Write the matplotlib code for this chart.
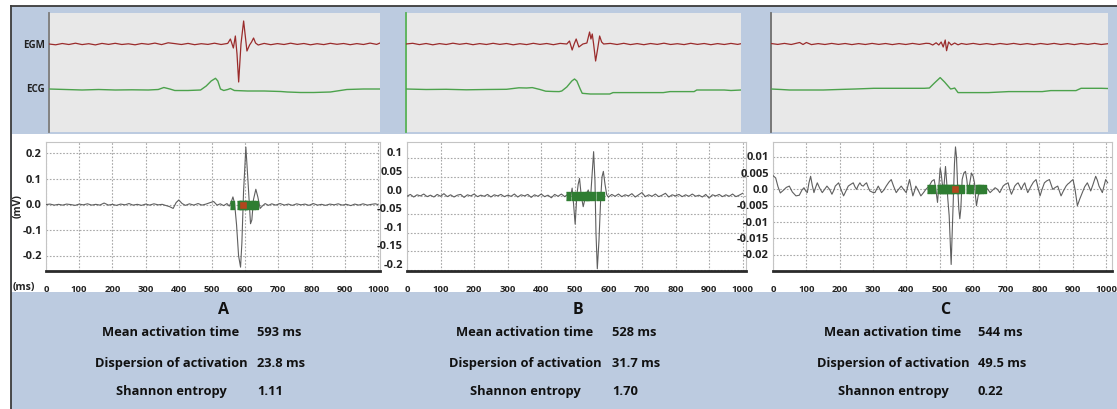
import matplotlib
matplotlib.use('Agg')
import matplotlib.pyplot as plt
import numpy as np
from matplotlib.patches import Rectangle

# ---------------- data ----------------
PANELS = ['A', 'B', 'C']
ROW_LABELS = ['Mean activation time', 'Dispersion of activation', 'Shannon entropy']
VALUES_A = ['593 ms', '23.8 ms', '1.11']
VALUES_B = ['528 ms', '31.7 ms', '1.70']
VALUES_C = ['544 ms', '49.5 ms', '0.22']

XTICKS = [0, 100, 200, 300, 400, 500, 600, 700, 800, 900, 1000]
YTICKS_A = [0.2, 0.1, 0.0, -0.1, -0.2]
YLABELS_A = ['0.2', '0.1', '0.0', '-0.1', '-0.2']
YTICKS_B = [0.1, 0.05, 0.0, -0.05, -0.1, -0.15, -0.2]
YLABELS_B = ['0.1', '0.05', '0.0', '-0.05', '-0.1', '-0.15', '-0.2']
YTICKS_C = [0.01, 0.005, 0.0, -0.005, -0.01, -0.015, -0.02]
YLABELS_C = ['0.01', '0.005', '0.0', '-0.005', '-0.01', '-0.015', '-0.02']

# unipolar signal (ms, mV)
SIG_A = [(0, 0.0), (12, 0.002), (25, -0.002), (38, 0.001), (50, -0.002), (62, 0.002), (75, 0.0),
         (88, -0.003), (100, 0.002), (112, -0.001), (125, 0.003), (138, -0.002), (150, 0.001),
         (162, -0.002), (175, 0.006), (188, -0.002), (200, 0.001), (212, -0.003), (225, 0.002),
         (238, -0.001), (250, 0.004), (262, -0.002), (275, 0.001), (288, -0.003), (300, 0.002),
         (312, -0.002), (325, 0.003), (338, -0.001), (350, 0.001), (362, -0.004), (372, -0.008),
         (383, -0.015), (392, 0.008), (400, 0.018), (410, 0.004), (420, -0.003), (432, 0.003),
         (445, -0.002), (458, 0.004), (470, -0.002), (482, 0.002), (495, 0.008), (505, 0.012),
         (515, -0.002), (525, 0.003), (535, -0.004), (545, 0.004), (552, -0.006), (558, 0.01),
         (563, 0.03), (568, 0.005), (574, -0.08), (580, -0.2), (586, -0.245), (590, -0.15),
         (595, 0.05), (602, 0.225), (608, 0.1), (616, -0.075), (620, -0.06), (625, 0.02),
         (632, 0.06), (638, 0.03), (645, -0.015), (652, -0.005), (660, 0.004), (670, -0.003),
         (680, 0.003), (692, -0.002), (705, 0.004), (718, -0.002), (730, 0.002), (742, -0.003),
         (755, 0.003), (768, -0.001), (780, 0.002), (792, -0.003), (805, 0.004), (818, -0.002),
         (830, 0.001), (842, -0.003), (855, 0.002), (868, -0.001), (880, 0.003), (892, -0.002),
         (905, 0.001), (918, -0.004), (930, 0.002), (942, -0.002), (955, 0.003), (968, -0.002),
         (980, 0.001), (992, 0.003), (1000, 0.0)]

SIG_B = [(0, -0.002), (10, 0.003), (20, -0.004), (30, 0.002), (40, -0.001), (50, 0.004), (60, -0.003),
         (70, 0.001), (80, -0.004), (90, 0.003), (100, -0.002), (110, 0.005), (120, -0.003),
         (130, 0.002), (140, -0.004), (150, 0.001), (160, 0.003), (170, -0.005), (180, 0.002),
         (190, -0.001), (200, 0.004), (210, -0.003), (220, 0.001), (230, -0.002), (240, 0.003),
         (250, -0.004), (260, 0.002), (270, -0.001), (280, 0.003), (290, -0.003), (300, 0.001),
         (310, -0.002), (320, 0.004), (330, -0.004), (340, 0.002), (350, -0.001), (360, 0.003),
         (370, -0.005), (380, 0.002), (390, -0.002), (400, 0.004), (410, -0.003), (420, 0.001),
         (430, -0.006), (440, 0.003), (450, -0.002), (460, 0.004), (470, -0.003),
         (480, 0.004), (486, -0.01), (492, 0.02), (496, -0.02), (501, -0.077), (506, 0.0),
         (510, 0.03), (514, 0.046), (518, 0.01), (521, -0.01), (525, -0.03), (530, -0.01),
         (535, 0.005), (540, 0.015), (544, 0.0), (547, -0.005), (551, 0.05), (556, 0.118),
         (560, 0.04), (563, -0.1), (567, -0.197), (572, -0.12), (577, -0.01), (581, 0.05),
         (585, 0.065), (590, 0.03), (595, 0.002), (600, -0.004),
         (610, 0.003), (620, -0.002), (630, 0.004), (640, -0.003), (650, 0.002), (660, -0.001),
         (670, 0.005), (680, -0.004), (690, 0.002), (700, 0.008), (710, -0.003), (720, 0.002),
         (730, -0.002), (740, 0.004), (750, -0.003), (760, 0.001), (770, 0.006), (780, -0.004),
         (790, 0.002), (800, -0.001), (810, 0.003), (820, -0.003), (830, 0.002), (840, -0.002),
         (850, 0.004), (860, -0.002), (870, 0.001), (880, -0.004), (890, 0.003), (900, -0.007),
         (910, 0.002), (920, -0.001), (930, 0.003), (940, -0.003), (950, 0.002), (960, -0.002),
         (970, 0.004), (980, -0.003), (990, 0.001), (1000, 0.006)]

SIG_C = [(0, 0.0042), (8, 0.0035), (15, 0.0008), (22, -0.0011), (30, -0.0004), (40, 0.0006),
         (49, 0.001), (58, -0.0008), (69, -0.002), (79, -0.0018), (87, -0.0002), (93, 0.0005),
         (99, -0.0006), (103, -0.001), (108, 0.002), (113, 0.004), (118, 0.0012), (123, -0.001),
         (128, 0.0006), (133, 0.002), (140, 0.0004), (148, -0.001), (155, 0.0), (162, 0.001),
         (170, 0.0), (177, -0.0015), (183, -0.0002), (187, 0.001), (197, 0.002), (204, 0.0),
         (212, -0.002), (219, -0.0005), (226, 0.001), (233, 0.0015), (241, 0.002), (246, 0.0008),
         (251, 0.0), (256, 0.0012), (261, 0.002), (266, 0.0012), (271, 0.001), (276, 0.0016),
         (281, 0.002), (286, 0.0006), (291, -0.0005), (299, -0.0009), (306, -0.001), (311, 0.0),
         (316, 0.001), (321, 0.0), (326, -0.001), (333, -0.0002), (340, 0.001), (348, 0.0022),
         (355, 0.003), (362, 0.001), (370, -0.001), (377, 0.0), (385, 0.001), (392, 0.0),
         (400, -0.001), (405, 0.001), (410, 0.003), (415, 0.0005), (420, -0.002), (425, -0.0005),
         (429, 0.001), (437, -0.0005), (444, -0.002), (452, -0.001), (459, 0.0), (469, 0.001),
         (477, 0.0025), (484, 0.003), (489, 0.0), (494, -0.004), (498, 0.001), (502, 0.0065),
         (505, 0.005), (508, 0.002), (512, -0.001), (515, 0.003), (518, 0.007), (521, 0.003),
         (525, -0.003), (529, -0.008), (535, -0.023), (541, -0.004), (545, 0.008), (548, 0.013),
         (551, 0.01), (554, 0.002), (558, -0.006), (561, -0.009), (564, -0.006), (568, 0.003),
         (573, 0.005), (578, 0.0055), (582, 0.003), (586, -0.001), (591, 0.002), (596, 0.005),
         (601, 0.004), (605, 0.002), (608, -0.002), (611, -0.005), (616, -0.002), (623, 0.0),
         (630, 0.0007), (637, 0.001), (645, 0.0), (652, -0.001), (660, -0.0002), (667, 0.0005),
         (674, 0.0), (681, -0.001), (686, 0.0), (691, 0.001), (698, 0.0016), (706, 0.002),
         (711, 0.0), (716, -0.0015), (721, -0.0003), (726, 0.001), (731, 0.0016), (736, 0.002),
         (741, 0.001), (746, 0.0), (751, 0.0012), (756, 0.002), (760, 0.0005), (765, -0.001),
         (770, 0.0), (775, 0.001), (782, 0.0022), (790, 0.003), (796, 0.0005), (802, -0.002),
         (808, 0.0), (815, 0.002), (822, 0.0026), (830, 0.003), (835, 0.0015), (840, 0.0),
         (848, 0.0006), (855, 0.001), (860, -0.0005), (865, -0.002), (872, -0.0005), (880, 0.001),
         (885, 0.0016), (890, 0.002), (896, 0.0026), (901, 0.003), (907, 0.0), (914, -0.005),
         (921, -0.003), (929, -0.001), (936, 0.0008), (944, 0.002), (949, 0.0008), (954, -0.0005),
         (961, 0.0015), (969, 0.004), (974, 0.0028), (979, 0.001), (984, 0.0), (989, -0.001),
         (994, 0.001), (999, 0.003), (1005, 0.002)]

# activation markers (ms)
GREEN_A = [560, 582, 588, 600, 606, 616, 624, 632]
RED_A = [593]
GREEN_B = [480, 496, 506, 518, 530, 536, 542, 555, 568, 582]
RED_B = []
GREEN_C = [468, 480, 497, 503, 509, 515, 521, 527, 533, 539, 555, 567, 586, 594, 612, 619, 626, 633]
RED_C = [546]

# top panel traces (ms, arbitrary amplitude)
EGM_A = [(0, 0), (20, -0.8), (40, 0.5), (60, -0.5), (80, 0.8), (100, -0.6), (120, 0.3), (140, -0.9),
         (160, 0.6), (180, -0.4), (200, 0.7), (220, -0.5), (240, 0.2), (260, -0.8), (280, 0.5),
         (300, -0.3), (320, 0.9), (340, -0.6), (360, 1.2), (380, 0.4), (400, -0.5), (420, 0.6),
         (440, -0.7), (460, 0.3), (480, -0.4), (500, 0.8), (520, -0.5), (540, 0.6), (548, 5),
         (557, -4), (563, 8), (568, -10), (573, -38), (580, 0), (588, 23), (594, 5), (598, -7),
         (606, -1), (612, 2), (618, 6), (624, 1), (632, -1), (650, 0.6), (670, -0.7), (690, 0.4),
         (710, -0.5), (730, 0.8), (750, -0.4), (770, 0.5), (790, -0.8), (810, 0.3), (830, -0.6),
         (850, 0.7), (870, -0.3), (890, 0.5), (910, -0.7), (930, 0.4), (950, -0.5), (970, 0.9),
         (990, -0.4), (1000, 1.0)]
ECG_A = [(0, 0), (50, -0.5), (100, -1), (150, -0.5), (200, -1), (250, -0.8), (300, -1), (330, -0.5),
         (347, 1.5), (365, 0), (380, -1.5), (420, -1.5), (458, -1), (475, 3), (490, 8), (503, 10.7),
         (510, 8), (518, 0), (528, -1.5), (540, -0.5), (548, 0.5), (560, -1.5), (600, -2),
         (650, -2), (700, -2.5), (720, -3), (760, -3.5), (800, -3.5), (850, -3), (880, -1.5),
         (900, -0.5), (950, 0), (1000, 0)]
EGM_B = [(0, 0), (20, 0.7), (40, -0.6), (60, 0.5), (80, -0.8), (100, 0.4), (120, -0.5), (140, 0.8),
         (160, -0.3), (180, 0.6), (200, -0.7), (220, 0.4), (240, -0.5), (260, 0.7), (280, -0.4),
         (300, 0.5), (320, -0.8), (340, 0.3), (360, -0.6), (380, 0.7), (400, -0.4), (420, 0.5),
         (440, -0.7), (460, 0.6), (480, 0), (488, 3), (496, -6), (502, 0), (508, 5), (516, -3),
         (528, 0), (540, 1), (548, 12), (552, 5), (556, 10), (560, 0), (566, -17), (572, -5),
         (578, 8), (584, 2), (590, 0), (610, 0.6), (630, -0.5), (650, 0.7), (670, -0.6),
         (690, 0.4), (710, -0.7), (730, 0.5), (750, -0.4), (770, 0.8), (790, -0.5), (810, 0.3),
         (830, -0.6), (850, 0.7), (870, -0.4), (890, 0.5), (910, -0.7), (930, 0.4), (950, -0.5),
         (970, 0.6), (990, -0.4), (1000, 0.3)]
ECG_B = [(0, 0), (60, -0.5), (120, -0.3), (180, -0.8), (240, -0.5), (300, -0.3), (337, 1.2),
         (360, 1.0), (377, 1.4), (400, -0.5), (417, -2.2), (440, -2.5), (457, -2.6), (465, -2),
         (480, 2), (495, 8), (503, 10), (510, 8), (520, 0), (526, -4.3), (550, -5), (608, -5),
         (618, -3.6), (700, -3.6), (768, -3.6), (788, -2.6), (860, -2.6), (868, -1), (950, -1),
         (970, -1.5), (1000, -1)]
EGM_C = [(0, 0.5), (20, -0.4), (40, 0.6), (60, -0.5), (85, 1.5), (95, -0.5), (105, 1.5),
         (120, -0.6), (140, 0.4), (160, -0.5), (180, 0.6), (200, -0.4), (220, 0.5), (240, -0.6),
         (260, 0.4), (280, -0.5), (300, 0.6), (320, -0.4), (340, 0.5), (360, -0.6), (380, 0.4),
         (400, -0.5), (420, 0.6), (440, -0.4), (460, 0.7), (470, 0.5), (480, -1), (490, 1.2),
         (498, -1), (505, 2), (511, -3), (517, 4), (521, -6.7), (527, 2), (535, -1), (545, 1),
         (555, -0.8), (565, 0.5), (580, -0.4), (600, 0.6), (620, -0.5), (640, 0.4), (660, -0.6),
         (680, 0.5), (700, -0.4), (720, 0.6), (740, -0.5), (760, 0.4), (780, -0.6), (800, 0.5),
         (820, -0.4), (840, 0.6), (860, -0.5), (880, 0.4), (900, -0.6), (920, 0.5), (940, -0.4),
         (960, 0.6), (980, -0.5), (1000, 0.3)]
ECG_C = [(0, 0), (30, -0.5), (55, -1), (100, -1), (155, -1), (200, -0.5), (250, 0), (305, 0.7),
         (380, 0.7), (455, 0.7), (470, 1), (485, 6), (502, 11.4), (515, 7), (533, 0), (540, 0.5),
         (545, 1), (555, -3.6), (600, -3.6), (645, -3.6), (705, -2.6), (805, -2.6), (830, -1.6),
         (905, -1.6), (920, 0.7), (980, 0.7), (1000, 0.5)]

# ---------------- layout & style ----------------
W, H = 1117, 410
plt.rcParams['font.family'] = ['Open Sans', 'DejaVu Sans']
BLUE = '#bccbe0'
GRAY_PANEL = '#e8e8e8'
EGM_COLOR = '#9a2b2b'
ECG_COLOR = '#4ca24c'
SIG_COLOR = '#5f5f5f'

fig = plt.figure(figsize=(W / 100, H / 100), dpi=100)
fig.patch.set_facecolor('white')


def pax(x0, y0, x1, y1):
    return fig.add_axes([x0 / W, 1 - y1 / H, (x1 - x0) / W, (y1 - y0) / H])


bg = pax(0, 0, W, H)
bg.set_xlim(0, W)
bg.set_ylim(H, 0)
bg.axis('off')
bg.add_patch(Rectangle((11, 7), W - 11, H - 7, facecolor=BLUE, edgecolor='none'))
bg.plot([11, W], [7, 7], color='#3c3c3c', lw=1.3)
bg.plot([11, 11], [7, H], color='#3c3c3c', lw=1.3)
TOP_BOXES = [(48, 380, '#7a7a7a'), (405, 741, '#55b055'), (770, 1108, '#6e6e6e')]
for x0, x1, lc in TOP_BOXES:
    bg.add_patch(Rectangle((x0, 14), x1 - x0, 119, facecolor=GRAY_PANEL, edgecolor='none'))
    bg.plot([x0 + 1, x0 + 1], [14, 133], color=lc, lw=1.3)
bg.add_patch(Rectangle((12, 134.5), W - 12, 158, facecolor='white', edgecolor='none'))

# top traces
for (x0, x1, _), egm, ecg in zip(TOP_BOXES, [EGM_A, EGM_B, EGM_C], [ECG_A, ECG_B, ECG_C]):
    ax = pax(x0 + 1, 14, x1, 133)
    ax.set_xlim(0, 1000)
    ax.set_ylim(-88, 31)
    ax.axis('off')
    ax.patch.set_alpha(0)
    ax.plot([p[0] for p in egm], [p[1] for p in egm], color=EGM_COLOR, lw=0.9)
    ax.plot([p[0] for p in ecg], [p[1] - 45 for p in ecg], color=ECG_COLOR, lw=1.0)

bg.text(45, 45, 'EGM', ha='right', va='center', fontsize=7, weight='bold', color='#222')
bg.text(45, 90, 'ECG', ha='right', va='center', fontsize=7, weight='bold', color='#222')

RECT_MARK = [(-0.5, -1), (0.5, -1), (0.5, 1), (-0.5, 1)]


def mid(x0, x1, xmax, ylim, yticks, ylabels, sig, green, red, label_va):
    ax = pax(x0, 143, x1, 272)
    ax.set_xlim(0, xmax)
    ax.set_ylim(*ylim)
    ax.set_facecolor('white')
    ax.plot([p[0] for p in sig], [p[1] for p in sig], color=SIG_COLOR, lw=0.8, zorder=3)
    ax.plot(green, [0] * len(green), linestyle='none', marker=RECT_MARK, ms=5.5,
            color='#2f7d32', zorder=4)
    if red:
        ax.plot(red, [0] * len(red), linestyle='none', marker='s', ms=5.5,
                mfc='#b4471e', mec='#2f7d32', mew=1, zorder=5)
    ax.set_xticks(XTICKS)
    ax.set_xticklabels([str(v) for v in XTICKS])
    ax.set_yticks(yticks)
    ax.set_yticklabels(ylabels)
    for lab in ax.get_yticklabels():
        lab.set_verticalalignment(label_va)
    ax.tick_params(axis='both', which='major', length=0, colors='#222')
    ax.tick_params(axis='x', which='major', pad=9, labelsize=6.8)
    ax.tick_params(axis='y', which='major', pad=3, labelsize=8)
    for lab in ax.get_xticklabels() + ax.get_yticklabels():
        lab.set_fontweight('bold')
    ax.grid(True, which='major', linestyle=(0, (1.5, 1.5)), color='#a8a8a8', lw=0.8)
    for s in ['left', 'top', 'right']:
        ax.spines[s].set_color('#c4c4c4')
        ax.spines[s].set_linewidth(0.8)
    ax.spines['bottom'].set_color('#2a2a2a')
    ax.spines['bottom'].set_linewidth(2)
    ax.set_axisbelow(True)
    return ax


mid(46, 380, 1006, (-0.26, 0.245), YTICKS_A, YLABELS_A, SIG_A, GREEN_A, RED_A, 'center')
mid(407, 746, 1010, (-0.203, 0.144), YTICKS_B, YLABELS_B, SIG_B, GREEN_B, RED_B, 'bottom')
mid(773, 1112, 1018, (-0.025, 0.0145), YTICKS_C, YLABELS_C, SIG_C, GREEN_C, RED_C, 'center')

bg.text(24, 288, '(ms)', ha='center', va='center', fontsize=7.5, weight='bold', color='#222')
bg.text(18, 206, '(mV)', ha='center', va='center', rotation=90, fontsize=7.5, weight='bold', color='#222')

# bottom statistics
LETTER_X = [223, 578, 945]
LABEL_X = [171, 525, 893]
VALUE_X = [257, 612, 978]
ROW_Y = [333, 364, 392]
for letter, lx, cx, vx, vals in zip(PANELS, LETTER_X, LABEL_X, VALUE_X, [VALUES_A, VALUES_B, VALUES_C]):
    bg.text(lx, 310, letter, ha='center', va='center', fontsize=11.5, weight='bold', color='#111')
    for lab, val, y in zip(ROW_LABELS, vals, ROW_Y):
        bg.text(cx, y, lab, ha='center', va='center', fontsize=9.3, weight='bold', color='#111')
        bg.text(vx, y, val, ha='left', va='center', fontsize=9.3, weight='bold', color='#111')

fig.savefig('out.png', dpi=100, facecolor=fig.get_facecolor())
